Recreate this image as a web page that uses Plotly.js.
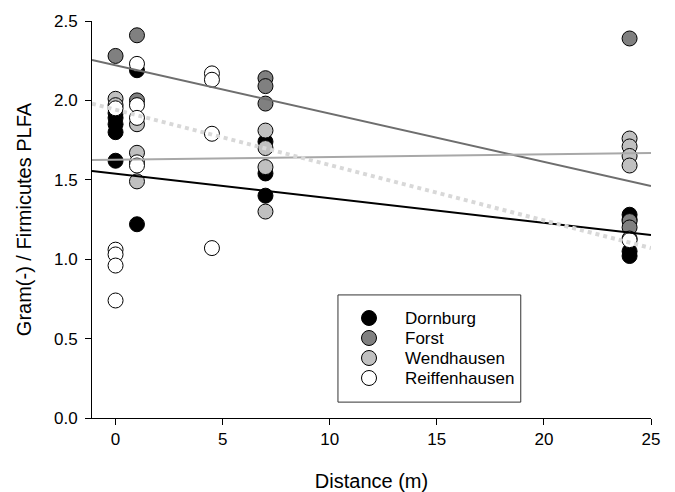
<!DOCTYPE html>
<html>
<head>
<meta charset="utf-8">
<script src="https://cdn.plot.ly/plotly-3.0.1.min.js"></script>
<style>html,body{margin:0;padding:0;background:#fff;}#chart{width:675px;height:492px;}</style>
</head>
<body>
<div id="chart"></div>
<script>
// Series names
const seriesNames = ["Dornburg", "Forst", "Wendhausen", "Reiffenhausen"];

// Dornburg
const dornburgX = [0, 0, 0, 0, 0, 1, 1, 7, 7, 7, 24, 24, 24, 24];
const dornburgY = [1.92, 1.89, 1.85, 1.80, 1.62, 2.19, 1.22, 1.74, 1.54, 1.40, 1.28, 1.25, 1.05, 1.02];

// Forst
const forstX = [0, 1, 1, 7, 7, 7, 24, 24, 24];
const forstY = [2.28, 2.41, 2.00, 2.14, 2.09, 1.98, 2.39, 1.24, 1.20];

// Wendhausen
const wendhausenX = [0, 0, 1, 1, 1, 7, 7, 7, 7, 24, 24, 24, 24, 24];
const wendhausenY = [2.01, 1.97, 1.85, 1.67, 1.49, 1.81, 1.70, 1.58, 1.30, 1.76, 1.71, 1.65, 1.59, 1.13];

// Reiffenhausen
const reiffenhausenX = [0, 0, 0, 0, 0, 1, 1, 1, 1, 1, 4.5, 4.5, 4.5, 4.5, 24];
const reiffenhausenY = [1.95, 1.06, 1.03, 0.96, 0.74, 2.23, 1.97, 1.89, 1.61, 1.59, 2.17, 2.13, 1.79, 1.07, 1.12];

// Regression lines (values at the ends of the fit range)
const fitX = [-1.1, 25];
const dornburgFit = [1.555, 1.152];
const forstFit = [2.254, 1.461];
const wendhausenFit = [1.625, 1.669];
const reiffenhausenFit = [1.98, 1.07];

// Tick labels
const xTicks = [0, 5, 10, 15, 20, 25];
const yTicks = [0, 0.5, 1.0, 1.5, 2.0, 2.5];
const yTickLabels = ["0.0", "0.5", "1.0", "1.5", "2.0", "2.5"];

const fills = ["#000000", "#808080", "#c0c0c0", "#ffffff"];
const markerStyle = (fill) => ({symbol: "circle", size: 15, color: fill, line: {color: "#000000", width: 1}});
const markerTrace = (name, x, y, fill) => ({
  type: "scatter", mode: "markers", name: name, x: x, y: y, cliponaxis: false,
  showlegend: false, marker: markerStyle(fill)
});
const lineTrace = (x, y, color, width, dash) => ({
  type: "scatter", mode: "lines", x: x, y: y, showlegend: false, hoverinfo: "skip",
  line: {color: color, width: width, dash: dash}
});

// Legend (drawn in an overlay pixel frame of the plot area: 559 x 397)
const legMarkX = 277, legTextX = 311, legTop = 100, legStep = 20;
const legendTrace = {
  type: "scatter", mode: "markers", xaxis: "x2", yaxis: "y2", showlegend: false, cliponaxis: false,
  x: seriesNames.map(() => legMarkX),
  y: seriesNames.map((_, i) => legTop - i * legStep),
  marker: {symbol: "circle", size: 15, color: fills, line: {color: "#000000", width: 1}}
};
const legendLabels = seriesNames.map((n, i) => ({
  xref: "x2", yref: "y2", x: legTextX, y: legTop - i * legStep, text: n,
  showarrow: false, xanchor: "left", yanchor: "middle", font: {size: 17}
}));

const data = [
  markerTrace(seriesNames[0], dornburgX, dornburgY, fills[0]),
  markerTrace(seriesNames[1], forstX, forstY, fills[1]),
  markerTrace(seriesNames[2], wendhausenX, wendhausenY, fills[2]),
  markerTrace(seriesNames[3], reiffenhausenX, reiffenhausenY, fills[3]),
  lineTrace(fitX, dornburgFit, "#000000", 2, "solid"),
  lineTrace(fitX, forstFit, "#6e6e6e", 2, "solid"),
  lineTrace(fitX, wendhausenFit, "#a8a8a8", 2, "solid"),
  lineTrace(fitX, reiffenhausenFit, "#d8d8d8", 4, "dot"),
  legendTrace
];

const layout = {
  width: 675, height: 492,
  margin: {l: 92, r: 24, t: 21, b: 74, pad: 0},
  paper_bgcolor: "#ffffff", plot_bgcolor: "#ffffff",
  font: {family: "Liberation Sans, Arial, sans-serif", color: "#000000", size: 17},
  showlegend: false,
  xaxis: {
    range: [-1.1, 25], showgrid: false, zeroline: false,
    showline: true, linecolor: "#000000", linewidth: 1,
    ticks: "outside", ticklen: 6, tickcolor: "#000000",
    tickvals: xTicks, ticktext: xTicks.map(String),
    title: {text: "Distance (m)", font: {size: 20}, standoff: 26}
  },
  yaxis: {
    range: [0, 2.5], showgrid: false, zeroline: false,
    showline: true, linecolor: "#000000", linewidth: 1,
    ticks: "outside", ticklen: 6, tickcolor: "#000000", ticklabelstandoff: 4,
    tickvals: yTicks, ticktext: yTickLabels,
    title: {text: "Gram(-) / Firmicutes PLFA", font: {size: 20}, standoff: 16}
  },
  xaxis2: {overlaying: "x", range: [0, 559], visible: false, fixedrange: true},
  yaxis2: {overlaying: "y", range: [0, 397], visible: false, fixedrange: true},
  annotations: legendLabels,
  shapes: [{
    type: "rect", xref: "paper", yref: "paper",
    x0: 0.440, x1: 0.767, y0: 0.040, y1: 0.310,
    line: {color: "#333333", width: 1}, fillcolor: "#ffffff", layer: "below"
  }]
};

Plotly.newPlot("chart", data, layout, {displayModeBar: false, staticPlot: true});
</script>
</body>
</html>
